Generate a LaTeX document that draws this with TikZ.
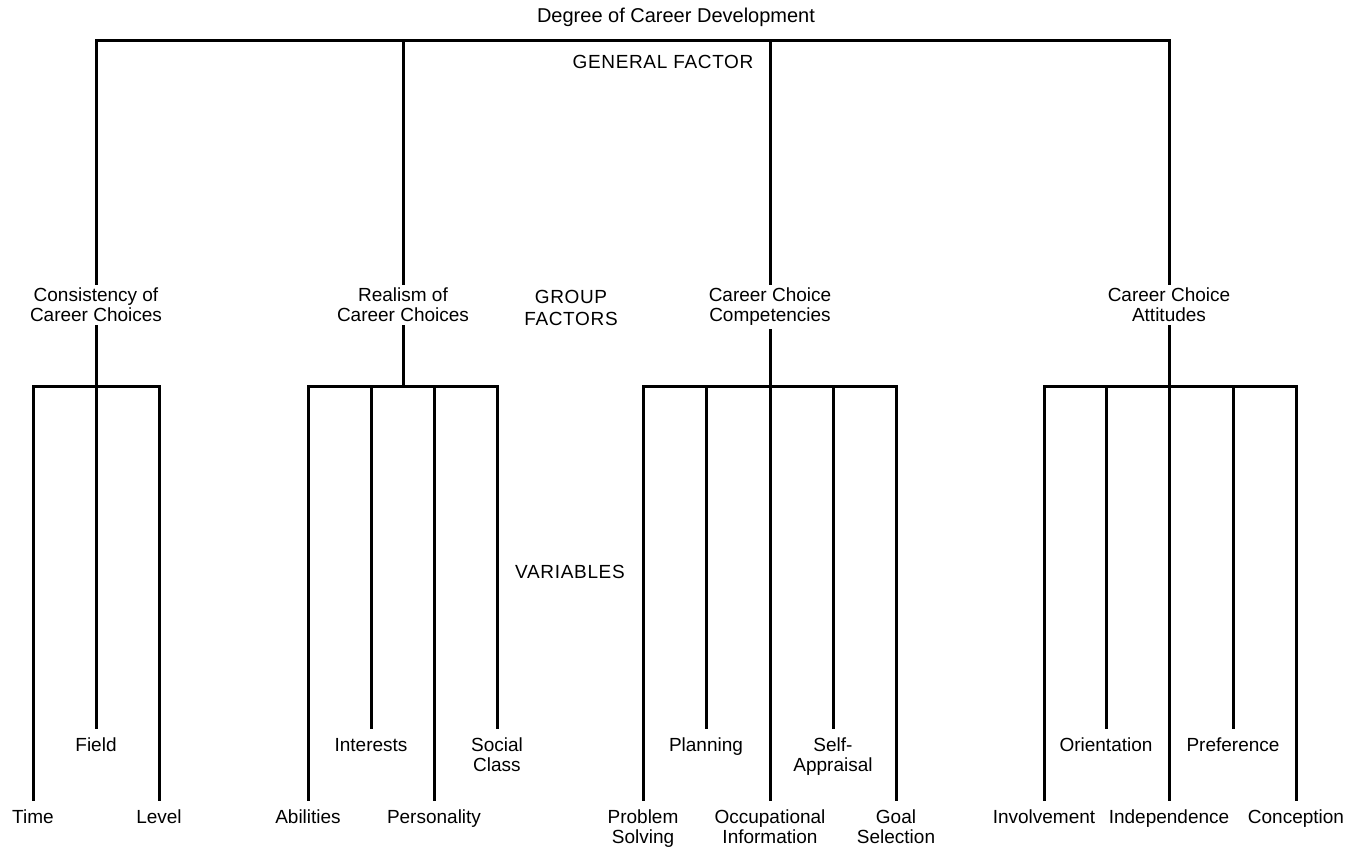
\documentclass[tikz,border=0pt]{standalone}
\usepackage{fontspec}
\setmainfont{Liberation Sans}
\newfontfamily\spacedcaps[LetterSpace=3.5]{Liberation Sans}

\begin{document}
\begin{tikzpicture}[x=0.5pt,y=-0.5pt,font=\fontsize{9.5pt}{10pt}\selectfont]
        \tikzset{
            treeline/.style={
                draw=black,
                line width=1.5pt,
                line cap=rect
            },
            levelname/.style={
                font=\fontsize{9.5pt}{11pt}\selectfont\spacedcaps,
                inner sep=0pt,
                align=center
            },
            factor/.style={
                inner sep=0pt,
                outer sep=2.5pt,
                align=center
            },
            leaf/.style={
                anchor=north,
                inner sep=0pt,
                outer sep=5pt,
                align=center
            }
        }

        \useasboundingbox (0,0) rectangle (1362,849);

        \node[font=\fontsize{10pt}{11pt}\selectfont] (degree) at (676,17)
            {Degree of Career Development};
        \node[levelname] (general) at (663,62) {GENERAL FACTOR};
        \node[levelname] (groupfactors) at (571,308) {GROUP\\FACTORS};
        \node[levelname] (variables) at (570,572) {VARIABLES};

        \coordinate (topbar) at (0,41);
        \coordinate (subbar) at (0,387);

        \node[factor] (consistency) at (96,305) {Consistency of\\Career Choices};
        \node[factor] (realism) at (403,305) {Realism of\\Career Choices};
        \node[factor] (competencies) at (770,307) {Career Choice\\Competencies};
        \node[factor] (attitudes) at (1169,305) {Career Choice\\Attitudes};

        \draw[treeline] (consistency.north |- topbar) -- (attitudes.north |- topbar);
        \draw[treeline] (consistency.north |- topbar) -- (consistency.north);
        \draw[treeline] (realism.north |- topbar) -- (realism.north);
        \draw[treeline] (competencies.north |- topbar) -- (competencies.north);
        \draw[treeline] (attitudes.north |- topbar) -- (attitudes.north);

        \node[leaf] (time) at (33,800) {Time};
        \node[leaf] (field) at (96,728) {Field};
        \node[leaf] (level) at (159,800) {Level};

        \draw[treeline] (consistency.south) -- (consistency.south |- subbar);
        \draw[treeline] (time.north |- subbar) -- (level.north |- subbar);
        \draw[treeline] (time.north |- subbar) -- (time.north);
        \draw[treeline] (field.north |- subbar) -- (field.north);
        \draw[treeline] (level.north |- subbar) -- (level.north);

        \node[leaf] (abilities) at (308,800) {Abilities};
        \node[leaf] (interests) at (371,728) {Interests};
        \node[leaf] (personality) at (434,800) {Personality};
        \node[leaf] (socialclass) at (497,728) {Social\\Class};

        \draw[treeline] (realism.south) -- (realism.south |- subbar);
        \draw[treeline] (abilities.north |- subbar) -- (socialclass.north |- subbar);
        \draw[treeline] (abilities.north |- subbar) -- (abilities.north);
        \draw[treeline] (interests.north |- subbar) -- (interests.north);
        \draw[treeline] (personality.north |- subbar) -- (personality.north);
        \draw[treeline] (socialclass.north |- subbar) -- (socialclass.north);

        \node[leaf] (problem) at (643,800) {Problem\\Solving};
        \node[leaf] (planning) at (706,728) {Planning};
        \node[leaf] (occupational) at (770,800) {Occupational\\Information};
        \node[leaf] (selfappraisal) at (833,728) {Self-\\Appraisal};
        \node[leaf] (goal) at (896,800) {Goal\\Selection};

        \draw[treeline] (competencies.south) -- (competencies.south |- subbar);
        \draw[treeline] (problem.north |- subbar) -- (goal.north |- subbar);
        \draw[treeline] (problem.north |- subbar) -- (problem.north);
        \draw[treeline] (planning.north |- subbar) -- (planning.north);
        \draw[treeline] (occupational.north |- subbar) -- (occupational.north);
        \draw[treeline] (selfappraisal.north |- subbar) -- (selfappraisal.north);
        \draw[treeline] (goal.north |- subbar) -- (goal.north);

        \node[leaf] (involvement) at (1044,800) {Involvement};
        \node[leaf] (orientation) at (1106,728) {Orientation};
        \node[leaf] (independence) at (1169,800) {Independence};
        \node[leaf] (preference) at (1233,728) {Preference};
        \node[leaf] (conception) at (1296,800) {Conception};

        \draw[treeline] (attitudes.south) -- (attitudes.south |- subbar);
        \draw[treeline] (involvement.north |- subbar) -- (conception.north |- subbar);
        \draw[treeline] (involvement.north |- subbar) -- (involvement.north);
        \draw[treeline] (orientation.north |- subbar) -- (orientation.north);
        \draw[treeline] (independence.north |- subbar) -- (independence.north);
        \draw[treeline] (preference.north |- subbar) -- (preference.north);
        \draw[treeline] (conception.north |- subbar) -- (conception.north);
    \end{tikzpicture}
\end{document}
